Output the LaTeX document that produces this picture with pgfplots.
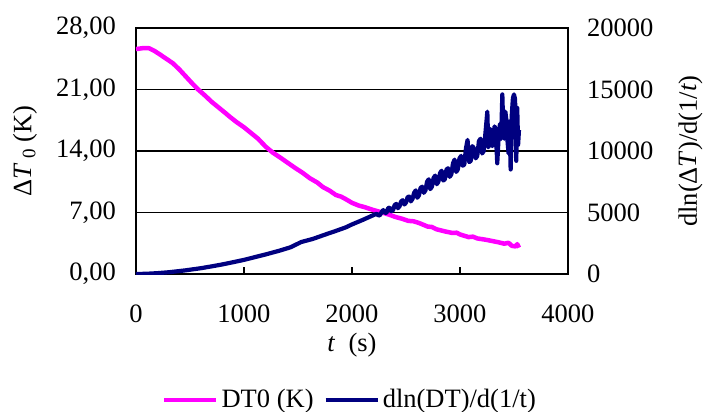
\documentclass[border=0pt]{standalone}
\usepackage{fontspec}
\setmainfont{Liberation Serif}
\usepackage{pgfplots}
\pgfplotsset{compat=1.18}

\definecolor{dtpink}{HTML}{FF00FF}
\definecolor{dlnblue}{HTML}{000080}

% DT0 (K) against t (s)
\pgfplotstableread{
t v
0 25.6
60 25.7
120 25.7
170 25.4
220 25.0
280 24.5
340 24.0
400 23.3
460 22.5
520 21.7
575 21.0
640 20.3
700 19.6
760 19.0
820 18.4
868 17.9
930 17.3
1000 16.7
1060 16.1
1130 15.4
1200 14.5
1268 13.8
1330 13.3
1400 12.7
1470 12.1
1545 11.5
1610 10.9
1680 10.4
1730 9.9
1791 9.5
1850 9.0
1900 8.8
1945 8.5
2000 8.1
2060 7.8
2120 7.6
2180 7.35
2222 7.2
2280 7.0
2345 6.75
2400 6.5
2460 6.3
2520 6.05
2570 6.0
2622 5.8
2700 5.4
2740 5.35
2780 5.1
2860 4.85
2930 4.67
2970 4.7
3000 4.5
3080 4.2
3120 4.25
3160 4.05
3238 3.9
3300 3.75
3360 3.6
3410 3.45
3450 3.55
3480 3.2
3515 3.14
3530 3.4
3546 3.0
}\dtzero

% dln(DT)/d(1/t) against t (s)
\pgfplotstableread{
t v
0 0
100 20
200 70
300 140
452 290
600 470
700 620
800 780
900 960
1006 1160
1100 1370
1200 1590
1330 1900
1430 2170
1530 2600
1637 2850
1750 3200
1850 3500
1945 3800
1992 4000
2100 4400
2207 4820
2230 4900
2245 4750
2260 4800
2275 5050
2290 5200
2305 4950
2320 5000
2335 5350
2350 5400
2365 5100
2380 5200
2395 5600
2410 5700
2425 5350
2440 5500
2455 5900
2470 6000
2485 5650
2500 5800
2515 6250
2530 6300
2545 5900
2560 6100
2575 6600
2590 6800
2605 6200
2620 6400
2635 7000
2650 7100
2665 6600
2680 6800
2695 7500
2710 7700
2725 6900
2740 7100
2755 7800
2770 8000
2785 7300
2800 7500
2815 8200
2830 8400
2845 7600
2860 7700
2875 8500
2890 8600
2905 7900
2920 8100
2935 9000
2950 9300
2965 8300
2980 8500
2995 9400
3010 9600
3025 8800
3040 8900
3055 10200
3070 10900
3085 9100
3100 9200
3115 10400
3130 10200
3145 9400
3160 9600
3175 10800
3190 11000
3205 9800
3220 10000
3237 11600
3253 13200
3262 10300
3270 10500
3280 11800
3290 11500
3300 10400
3310 10600
3320 12000
3330 11800
3345 9000
3358 11200
3370 12200
3381 11000
3392 14600
3401 11800
3410 11000
3420 13200
3430 12500
3440 10800
3450 9800
3459 12400
3469 8500
3480 13000
3490 14300
3500 14600
3510 14200
3521 9200
3530 13500
3538 10500
3546 11700
}\dlnrate

\begin{document}
\fontsize{26.5}{31}\selectfont
\begin{tikzpicture}
\useasboundingbox (-136pt,-138pt) rectangle (569pt,274pt);
\begin{axis}[
  width=432pt, height=246pt, scale only axis,
  xmin=0, xmax=4000, ymin=0, ymax=28,
  xtick={0,1000,...,4000}, ytick={0,7,...,28},
  xtick pos=bottom, ytick pos=left, tick align=inside,
  major tick length=7pt,
  tick style={black, line width=1.8pt},
  axis line style={black, line width=2pt},
  ymajorgrids, grid style={black, line width=1.8pt},
  /pgf/number format/assume math mode=true,
  xticklabel style={inner sep=0pt, yshift=-31pt, /pgf/number format/1000 sep={}},
  yticklabel style={inner sep=0pt, xshift=-20pt,
    /pgf/number format/.cd, fixed, fixed zerofill, precision=2, use comma},
  xlabel={\textit{t}~ (s)},
  xlabel style={at={(axis description cs:0.5,-0.289)}, anchor=center, inner sep=0pt},
  ylabel={Δ\textit{T}\,\raisebox{-0.15em}{\fontsize{19}{20}\selectfont 0} (K)},
  ylabel style={at={(axis description cs:-0.257,0.5)}, anchor=center, inner sep=0pt},
]
\addplot[dtpink, line width=4.5pt, line join=round] table[x=t, y=v] {\dtzero};
\end{axis}
\begin{axis}[
  width=432pt, height=246pt, scale only axis,
  xmin=0, xmax=4000, ymin=0, ymax=20000,
  axis x line=none, axis y line*=right,
  ytick={0,5000,...,20000}, scaled y ticks=false,
  tick align=inside, major tick length=0pt,
  axis line style={black, line width=2pt},
  /pgf/number format/assume math mode=true,
  yticklabel style={inner sep=0pt, xshift=19pt, /pgf/number format/1000 sep={}},
  ylabel={dln(Δ\textit{T})/d(1/\textit{t})},
  ylabel style={at={(axis description cs:1.2835,0.5)}, anchor=center, inner sep=0pt},
  legend columns=2,
  legend style={at={(axis description cs:0.4965,-0.512)}, anchor=center,
    draw=none, fill=none, nodes={inner sep=3pt},
    /tikz/every even column/.append style={column sep=7pt}},
  legend image code/.code={\draw[#1] (0pt,0pt) -- (52pt,0pt);},
]
\addlegendimage{dtpink, line width=4.5pt}
\addlegendentry{DT0 (K)}
\addplot[dlnblue, line width=4.2pt, line join=round] table[x=t, y=v] {\dlnrate};
\addlegendentry{dln(DT)/d(1/t)}
\end{axis}
\end{tikzpicture}
\end{document}
